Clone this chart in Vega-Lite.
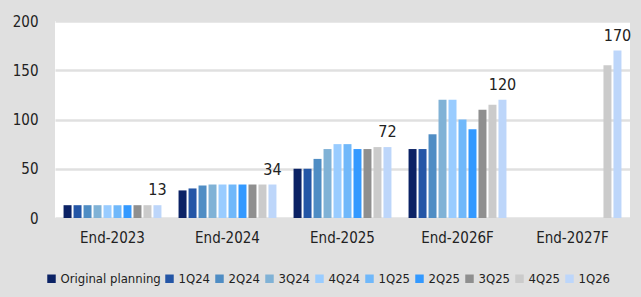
{
  "$schema": "https://vega.github.io/schema/vega-lite/v6.json",
  "autosize": {"type": "none"},
  "width": 575,
  "height": 197,
  "padding": {"left": 55, "top": 21, "right": 11, "bottom": 79},
  "background": "#e0e0e0",
  "config": {
    "view": {"fill": "white", "stroke": null},
    "font": "DejaVu Sans Condensed, sans-serif",
    "axis": {"labelFont": "DejaVu Sans Condensed, sans-serif", "labelColor": "#222222"},
    "legend": {"labelFont": "DejaVu Sans Condensed, sans-serif"}
  },
  "data": {
    "values": [
      {"period": "End-2023", "series": "Original planning", "value": 13},
      {"period": "End-2023", "series": "1Q24", "value": 13},
      {"period": "End-2023", "series": "2Q24", "value": 13},
      {"period": "End-2023", "series": "3Q24", "value": 13},
      {"period": "End-2023", "series": "4Q24", "value": 13},
      {"period": "End-2023", "series": "1Q25", "value": 13},
      {"period": "End-2023", "series": "2Q25", "value": 13},
      {"period": "End-2023", "series": "3Q25", "value": 13},
      {"period": "End-2023", "series": "4Q25", "value": 13},
      {"period": "End-2023", "series": "1Q26", "value": 13},
      {"period": "End-2024", "series": "Original planning", "value": 28},
      {"period": "End-2024", "series": "1Q24", "value": 30},
      {"period": "End-2024", "series": "2Q24", "value": 33},
      {"period": "End-2024", "series": "3Q24", "value": 34},
      {"period": "End-2024", "series": "4Q24", "value": 34},
      {"period": "End-2024", "series": "1Q25", "value": 34},
      {"period": "End-2024", "series": "2Q25", "value": 34},
      {"period": "End-2024", "series": "3Q25", "value": 34},
      {"period": "End-2024", "series": "4Q25", "value": 34},
      {"period": "End-2024", "series": "1Q26", "value": 34},
      {"period": "End-2025", "series": "Original planning", "value": 50},
      {"period": "End-2025", "series": "1Q24", "value": 50},
      {"period": "End-2025", "series": "2Q24", "value": 60},
      {"period": "End-2025", "series": "3Q24", "value": 70},
      {"period": "End-2025", "series": "4Q24", "value": 75},
      {"period": "End-2025", "series": "1Q25", "value": 75},
      {"period": "End-2025", "series": "2Q25", "value": 70},
      {"period": "End-2025", "series": "3Q25", "value": 70},
      {"period": "End-2025", "series": "4Q25", "value": 72},
      {"period": "End-2025", "series": "1Q26", "value": 72},
      {"period": "End-2026F", "series": "Original planning", "value": 70},
      {"period": "End-2026F", "series": "1Q24", "value": 70},
      {"period": "End-2026F", "series": "2Q24", "value": 85},
      {"period": "End-2026F", "series": "3Q24", "value": 120},
      {"period": "End-2026F", "series": "4Q24", "value": 120},
      {"period": "End-2026F", "series": "1Q25", "value": 100},
      {"period": "End-2026F", "series": "2Q25", "value": 90},
      {"period": "End-2026F", "series": "3Q25", "value": 110},
      {"period": "End-2026F", "series": "4Q25", "value": 115},
      {"period": "End-2026F", "series": "1Q26", "value": 120},
      {"period": "End-2027F", "series": "4Q25", "value": 155},
      {"period": "End-2027F", "series": "1Q26", "value": 170}
    ]
  },
  "encoding": {
    "x": {
      "field": "period", "type": "nominal", "title": null,
      "sort": ["End-2023", "End-2024", "End-2025", "End-2026F", "End-2027F"],
      "scale": {"paddingInner": 0.14, "paddingOuter": 0.07},
      "axis": {"labelAngle": 0, "ticks": false, "domain": false, "labelFontSize": 15, "labelPadding": 12}
    },
    "y": {
      "field": "value", "type": "quantitative", "title": null,
      "scale": {"domain": [0, 200]},
      "axis": {"values": [0, 50, 100, 150, 200], "ticks": false, "domain": false, "labelFontSize": 15, "labelPadding": 17, "gridColor": "#e0e0e0", "gridWidth": 2.5}
    },
    "xOffset": {
      "field": "series", "type": "nominal",
      "sort": ["Original planning", "1Q24", "2Q24", "3Q24", "4Q24", "1Q25", "2Q25", "3Q25", "4Q25", "1Q26"],
      "scale": {"domain": ["Original planning", "1Q24", "2Q24", "3Q24", "4Q24", "1Q25", "2Q25", "3Q25", "4Q25", "1Q26"], "paddingInner": 0.2, "paddingOuter": 0.05}
    }
  },
  "layer": [
    {
      "mark": {"type": "bar"},
      "encoding": {
        "color": {
          "field": "series", "type": "nominal", "title": null,
          "scale": {
            "domain": ["Original planning", "1Q24", "2Q24", "3Q24", "4Q24", "1Q25", "2Q25", "3Q25", "4Q25", "1Q26"],
            "range": ["#0b2265", "#2456a6", "#4f8dc4", "#80b2d6", "#99ccff", "#70b8fa", "#3399ff", "#8f8f8f", "#cbcbcb", "#bdd6fa"]
          },
          "legend": {
            "orient": "none", "legendX": -10, "legendY": 251, "direction": "horizontal", "columns": 10,
            "symbolType": "square", "symbolSize": 72, "symbolStrokeWidth": 0, "symbolOffset": 0,
            "labelFontSize": 13, "labelOffset": 2.5, "columnPadding": 2, "labelColor": "#222222"
          }
        }
      }
    },
    {
      "transform": [{"filter": "datum.series === '1Q26'"}],
      "mark": {"type": "text", "baseline": "bottom", "dy": -7, "fontSize": 16, "color": "#222222"},
      "encoding": {"text": {"field": "value", "type": "quantitative"}}
    }
  ]
}
